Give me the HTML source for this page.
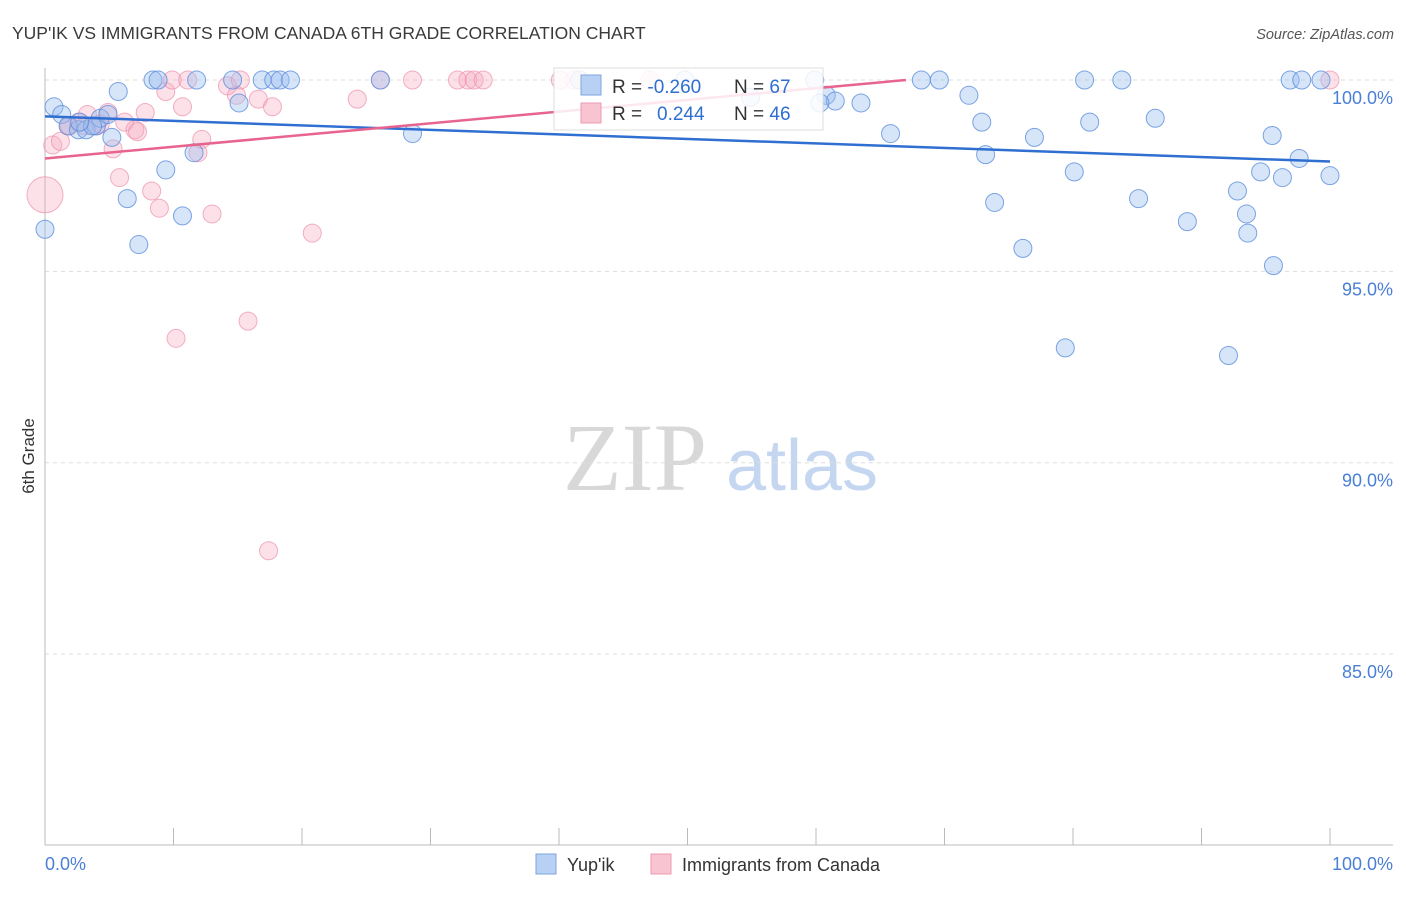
<!DOCTYPE html>
<html><head><meta charset="utf-8"><style>
body{margin:0;background:#fff;font-family:"Liberation Sans",sans-serif}
</style></head><body>
<svg width="1406" height="892" xmlns="http://www.w3.org/2000/svg" id="chart">
<text x="12" y="39" font-size="17.5" fill="#3a3a3a">YUP'IK VS IMMIGRANTS FROM CANADA 6TH GRADE CORRELATION CHART</text>
<text x="1394" y="39" font-size="14.5" fill="#555" font-style="italic" text-anchor="end">Source: ZipAtlas.com</text>
<g>
<text x="635" y="490" font-size="96" font-family="Liberation Serif,serif" fill="#d8d8d8" text-anchor="middle">ZIP</text>
<text x="802" y="490" font-size="72" fill="#c5d7f0" text-anchor="middle">atlas</text>
</g>
<g id="grid"></g>
<g id="axes"></g>
<g id="pts"></g>
<g id="lines"></g>
<text transform="translate(34,456) rotate(-90)" font-size="17" fill="#333" text-anchor="middle">6th Grade</text>
<g>
<rect x="554" y="68" width="269" height="62" fill="#fff" fill-opacity="0.85" stroke="#ddd"/>
<rect x="581" y="75" width="20" height="20" fill="#b8d0f3" stroke="#7ea6e0"/>
<rect x="581" y="103" width="20" height="20" fill="#f8c4d2" stroke="#ee9ab3"/>
<text x="612" y="93" font-size="19" fill="#333">R = <tspan fill="#2f6fd1">-0.260</tspan></text>
<text x="734" y="93" font-size="19" fill="#333">N = <tspan fill="#2f6fd1">67</tspan></text>
<text x="612" y="120" font-size="19" fill="#333">R = <tspan fill="#2f6fd1" x="657">0.244</tspan></text>
<text x="734" y="120" font-size="19" fill="#333">N = <tspan fill="#2f6fd1">46</tspan></text>
</g>
<g>
<rect x="536" y="854" width="20" height="20" fill="#b8d0f3" stroke="#7ea6e0"/>
<text x="567" y="871" font-size="18" fill="#333">Yup'ik</text>
<rect x="651" y="854" width="20" height="20" fill="#f8c4d2" stroke="#ee9ab3"/>
<text x="682" y="871" font-size="18" fill="#333">Immigrants from Canada</text>
</g>
</svg>
<script>
const yTicks=[100,95,90,85];
const yTickLabels=["100.0%","95.0%","90.0%","85.0%"];
const xTickLabels=["0.0%","100.0%"];
const blueX=[0.7,1.3,1.8,2.6,3.2,4.0,4.3,4.9,5.2,5.7,6.4,7.3,8.4,8.8,9.4,10.7,11.6,11.8,14.6,15.1,16.9,17.8,18.3,19.1,26.1,28.6,0,54.9,59.9,60.8,61.5,63.5,65.8,68.2,69.6,71.9,72.9,73.2,73.9,76.1,77.0,79.4,80.1,80.9,81.3,83.8,85.1,86.4,88.9,92.1,92.8,93.5,93.6,94.6,95.5,95.6,96.3,96.9,97.6,97.8,99.3,100,41.6,49.8,60.3,3.7,2.7];
const blueY=[99.3,99.1,98.8,98.7,98.7,98.8,99.0,99.1,98.5,99.7,96.9,95.7,100,100,97.65,96.45,98.1,100,100,99.4,100,100,100,100,100,98.6,96.1,99.55,100,99.6,99.45,99.4,98.6,100,100,99.6,98.9,98.05,96.8,95.6,98.5,93.0,97.6,100,98.9,100,96.9,99.0,96.3,92.8,97.1,96.5,96.0,97.6,98.55,95.15,97.45,100,97.95,100,100,97.5,100,100,99.4,98.8,98.9];
const pinkX=[0,0.6,1.2,1.8,2.6,3.3,4.0,4.9,5.3,5.8,6.2,7.0,7.2,7.8,8.3,8.9,9.4,9.9,10.2,10.7,11.1,11.9,12.2,13.0,14.2,14.9,15.2,15.8,16.6,17.4,17.7,20.8,24.3,26.1,28.6,32.1,32.9,33.4,34.1,40.1,41.2,47.1,100,1.9,3.1,4.3];
const pinkY=[97.0,98.3,98.4,98.8,98.9,99.1,98.8,99.15,98.2,97.45,98.9,98.7,98.65,99.15,97.1,96.65,99.7,100,93.25,99.3,100,98.1,98.45,96.5,99.85,99.6,100,93.7,99.5,87.7,99.3,96.0,99.5,100,100,100,100,100,100,100,100,100,100,98.8,98.8,98.85];
const pinkSize=[18,9,9,9,9,9,9,9,9,9,9,9,9,9,9,9,9,9,9,9,9,9,9,9,9,9,9,9,9,9,9,9,9,9,9,9,9,9,9,9,9,9,9,9,9,9];
const blueTrend=[99.05,97.87];
const pinkTrend=[97.95,100];
const pinkTrendEnd=67;
const NS="http://www.w3.org/2000/svg";
const X=v=>45+v*12.85, Y=v=>80+(100-v)*38.27;
function mk(t,a,p){const e=document.createElementNS(NS,t);for(const k in a)e.setAttribute(k,a[k]);document.getElementById(p).appendChild(e);return e;}
yTicks.forEach((t,i)=>{
 const l=mk('line',{x1:45,x2:1393,y1:Y(t),y2:Y(t),stroke:'#ddd','stroke-dasharray':'4,4'},'grid');
 
 
 const tx=mk('text',{x:1393,y:Y(t)+24,'font-size':18,fill:'#4a7fd6','text-anchor':'end'},'axes');
 tx.textContent=yTickLabels[i];
 
 
});
const ax=mk('line',{x1:45,x2:1393,y1:845,y2:845,stroke:'#bbb'},'axes');


const ay=mk('line',{x1:45,x2:45,y1:68,y2:845,stroke:'#bbb'},'axes');


for(let i=0;i<=10;i++){const t=mk('line',{x1:X(i*10),x2:X(i*10),y1:828,y2:845,stroke:'#bbb'},'axes');
 
 }
[[0,'start',45],[1,'end',1393]].forEach(([i,a,x])=>{const t=mk('text',{x:x,y:870,'font-size':18,fill:'#4a7fd6','text-anchor':a},'axes');t.textContent=xTickLabels[i];
 
 });
pinkX.forEach((v,i)=>{const c=mk('circle',{cx:X(v),cy:Y(pinkY[i]),r:pinkSize[i],fill:'#f5a9c0','fill-opacity':0.35,stroke:'#ec8fab','stroke-opacity':0.7},'pts');
 
 });
blueX.forEach((v,i)=>{const c=mk('circle',{cx:X(v),cy:Y(blueY[i]),r:9,fill:'#9cbff0','fill-opacity':0.4,stroke:'#5d8fdc','stroke-opacity':0.8},'pts');
 
 });
const bl=mk('line',{x1:X(0),y1:Y(blueTrend[0]),x2:X(100),y2:Y(blueTrend[1]),stroke:'#2f6fd1','stroke-width':2.5},'lines');


const pl=mk('line',{x1:X(0),y1:Y(pinkTrend[0]),x2:X(pinkTrendEnd),y2:Y(pinkTrend[1]),stroke:'#e8648f','stroke-width':2.5},'lines');


</script>
</body></html>
